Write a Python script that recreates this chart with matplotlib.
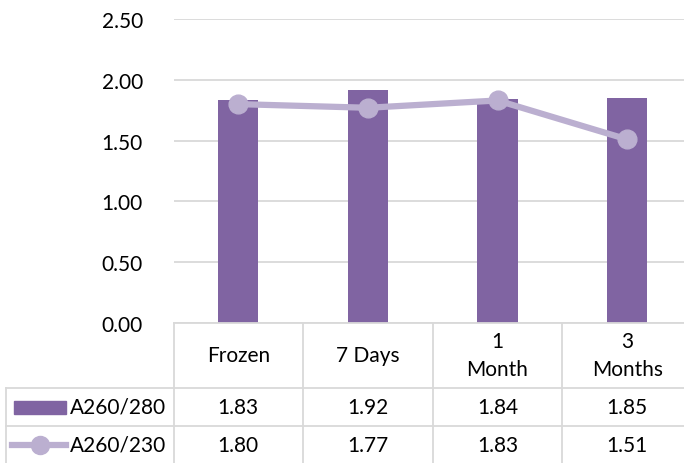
import numpy as np
import matplotlib.pyplot as plt
import matplotlib.transforms as mtransforms
from matplotlib.lines import Line2D
from matplotlib.patches import Rectangle

plt.rcParams['font.family'] = ['Lato', 'DejaVu Sans']

# data
categories = ["Frozen", "7 Days", "1\nMonth", "3\nMonths"]
a260_280 = [1.83, 1.92, 1.84, 1.85]
a260_230 = [1.80, 1.77, 1.83, 1.51]
series_names = ["A260/280", "A260/230"]
yticks = [0.0, 0.5, 1.0, 1.5, 2.0, 2.5]

bar_color = "#8064A2"
line_color = "#BBAFD0"
grid_color = "#D9D9D9"
fs = 15

W, H = 684, 464
fig = plt.figure(figsize=(W / 100, H / 100), dpi=100)
# plot area runs slightly past the right edge, as in the original
ax = fig.add_axes([173.5 / W, 140 / H, 518.5 / W, 304 / H])

x = np.arange(len(categories))
ax.bar(x, a260_280, width=0.31, color=bar_color, zorder=2)
ax.plot(x, a260_230, color=line_color, lw=4.5, marker="o", ms=13.5,
        zorder=3, solid_capstyle="round")

ax.set_xlim(-0.5, len(categories) - 0.5)
ax.set_ylim(0, 2.5)
ax.set_yticks(yticks)
ax.set_yticklabels([f"{v:.2f}" for v in yticks], fontsize=fs)
ax.set_xticks([])
ax.tick_params(axis="y", length=0, pad=22)
ax.yaxis.grid(True, color=grid_color, lw=1.3)
ax.set_axisbelow(True)
for side in ["top", "right", "left"]:
    ax.spines[side].set_visible(False)
ax.spines["bottom"].set_color(grid_color)
ax.spines["bottom"].set_linewidth(1.3)

# data table below the plot
tr = mtransforms.blended_transform_factory(ax.transData, ax.transAxes)
px = 1 / 304  # one pixel in axes-y units
y_head = -65 * px
y_r1 = -103 * px
y_r2 = -141 * px
x_left = -0.5 - (173.5 - 6) / 129.6
x_right = len(categories) - 0.5


def tline(xs, ys):
    fig.add_artist(Line2D(xs, ys, transform=tr, color=grid_color, lw=1.3,
                          clip_on=False))


for edge in np.arange(len(categories) + 1) - 0.5:
    tline([edge, edge], [0, y_r2])
tline([x_left, x_left], [y_head, y_r2])
for yy in [y_head, y_r1, y_r2]:
    tline([x_left, x_right], [yy, yy])

for i, cat in enumerate(categories):
    ax.text(i, y_head / 2, cat, transform=tr, ha="center", va="center",
            fontsize=fs, linespacing=1.5)
    ax.text(i, (y_head + y_r1) / 2, f"{a260_280[i]:.2f}", transform=tr,
            ha="center", va="center", fontsize=fs)
    ax.text(i, (y_r1 + y_r2) / 2, f"{a260_230[i]:.2f}", transform=tr,
            ha="center", va="center", fontsize=fs)

# legend keys in the table
ftr = fig.transFigure
key_x0, key_x1 = 14 / W, 66 / W
r1c = 1 - 408 / H
r2c = 1 - 446 / H
fig.add_artist(Rectangle((key_x0, r1c - 6.5 / H), key_x1 - key_x0, 13 / H,
                         transform=ftr, color=bar_color))
fig.add_artist(Line2D([12 / W, 66 / W], [r2c, r2c], transform=ftr,
                      color=line_color, lw=4.5))
fig.add_artist(Line2D([40 / W], [r2c], transform=ftr, color=line_color,
                      marker="o", ms=13))
fig.text(70 / W, r1c, series_names[0], ha="left", va="center", fontsize=fs)
fig.text(70 / W, r2c, series_names[1], ha="left", va="center", fontsize=fs)

fig.savefig("out.png", dpi=100)
